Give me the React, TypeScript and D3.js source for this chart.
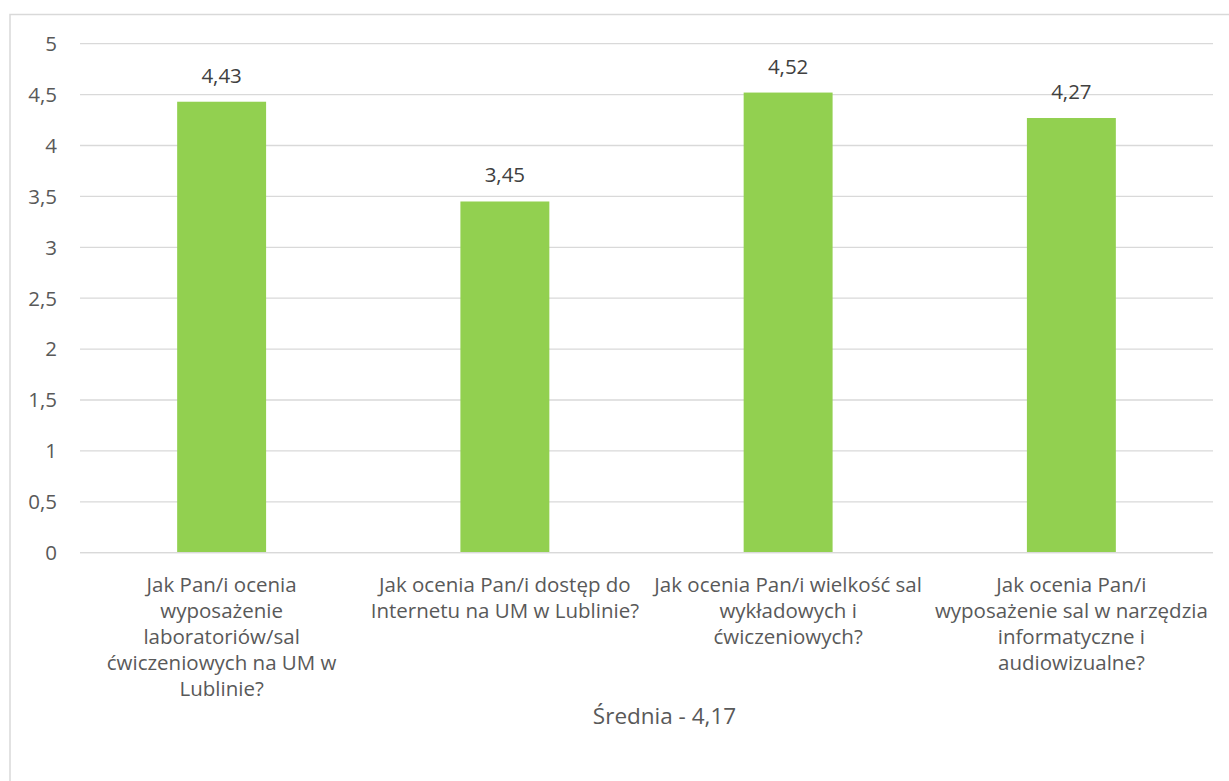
import React from "react";
import * as d3 from "d3";

const categories: string[][] = [
  ["Jak Pan/i ocenia", "wyposażenie", "laboratoriów/sal", "ćwiczeniowych na UM w", "Lublinie?"],
  ["Jak ocenia Pan/i dostęp do", "Internetu na UM w Lublinie?"],
  ["Jak ocenia Pan/i wielkość sal", "wykładowych i", "ćwiczeniowych?"],
  ["Jak ocenia Pan/i", "wyposażenie sal w narzędzia", "informatyczne i", "audiowizualne?"],
];
const values: number[] = [4.43, 3.45, 4.52, 4.27];
const yTicks: number[] = [0, 0.5, 1, 1.5, 2, 2.5, 3, 3.5, 4, 4.5, 5];
const axisTitle = "Średnia - 4,17";

const W = 1229;
const H = 781;
const fmt = (v: number) => String(v).replace(".", ",");

export default function App() {
  const left = 80, right = 1213, top = 43.7, bottom = 552.7;
  const x = d3.scaleBand<number>().domain(values.map((_, i) => i)).range([left, right]).padding(0);
  const y = d3.scaleLinear().domain([0, 5]).range([bottom, top]);
  const bw = x.bandwidth() * 0.314;
  const font = "'Open Sans', sans-serif";
  return (
    <svg width={W} height={H} style={{ position: "absolute", left: 0, top: 0 }} fontFamily={font}>
      <rect x={10} y={14.5} width={1240} height={800} fill="#fff" stroke="#d9d9d9" strokeWidth={1.5} />
      {yTicks.map((t) => (
        <g key={t}>
          <line x1={left} x2={right} y1={y(t)} y2={y(t)} stroke="#d9d9d9" strokeWidth={1.3} />
          <text x={57} y={y(t)} dy="0.36em" textAnchor="end" fontSize={20.5} fill="#595959">
            {fmt(t)}
          </text>
        </g>
      ))}
      {values.map((v, i) => {
        const cx = (x(i) as number) + x.bandwidth() / 2;
        return (
          <g key={i}>
            <rect x={cx - bw / 2} y={y(v)} width={bw} height={y(0) - y(v)} fill="#92d050" />
            <text x={cx} y={y(v) - 19} textAnchor="middle" fontSize={20.5} fill="#404040">
              {fmt(v)}
            </text>
            {categories[i].map((line, j) => (
              <text key={j} x={cx} y={591.5 + j * 26} textAnchor="middle" fontSize={20.5} fill="#595959">
                {line}
              </text>
            ))}
          </g>
        );
      })}
      <line x1={left} x2={right} y1={y(0)} y2={y(0)} stroke="#d9d9d9" strokeWidth={1.3} />
      <text x={664.5} y={723.5} textAnchor="middle" fontSize={22.5} fill="#595959">
        {axisTitle}
      </text>
    </svg>
  );
}
